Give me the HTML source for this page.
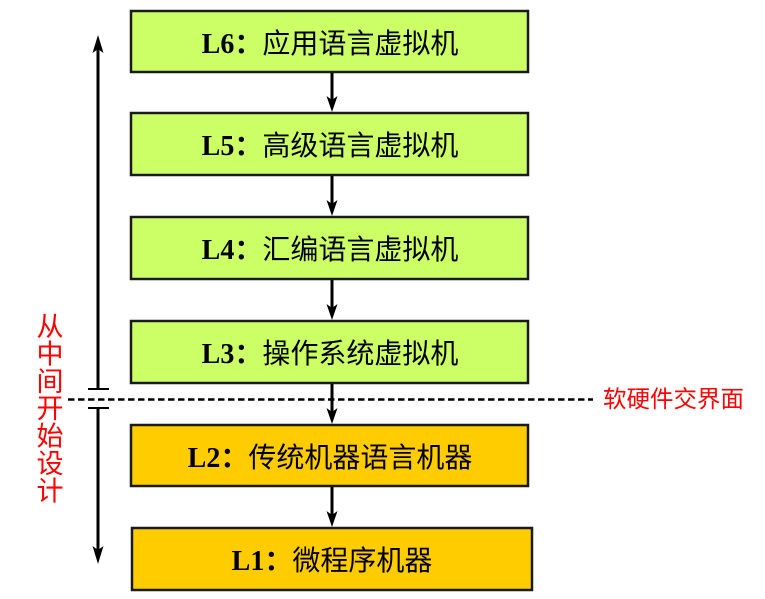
<!DOCTYPE html>
<html><head><meta charset="utf-8"><style>
html,body{margin:0;padding:0;background:#fff;}
svg{display:block;}
.t{font-family:"Liberation Sans","Noto Sans CJK SC",sans-serif;font-size:28px;fill:#000;}
.l{font-family:"Liberation Serif",serif;font-weight:bold;}
.c{font-family:"Noto Sans CJK SC",sans-serif;font-weight:bold;}
.r{font-family:"Liberation Sans","Noto Sans CJK SC",sans-serif;fill:#ff0000;}
</style></head><body>
<svg width="765" height="599" viewBox="0 0 765 599" xmlns="http://www.w3.org/2000/svg">
<!-- boxes -->
<g stroke="#1a1a1a" stroke-width="2.5">
<rect x="131" y="11" width="397" height="61" fill="#ccff66"/>
<rect x="131" y="113" width="397" height="62" fill="#ccff66"/>
<rect x="131" y="217" width="397" height="62" fill="#ccff66"/>
<rect x="131" y="321" width="397" height="62" fill="#ccff66"/>
<rect x="131" y="425" width="397" height="61" fill="#ffcc00"/>
<rect x="132" y="528" width="400" height="62" fill="#ffcc00"/>
</g>
<!-- connectors -->
<g stroke="#000" stroke-width="3">
<line x1="332" y1="73" x2="332" y2="102"/>
<line x1="332" y1="176" x2="332" y2="206"/>
<line x1="332" y1="280" x2="332" y2="310"/>
<line x1="332" y1="384" x2="332" y2="414"/>
<line x1="332" y1="487" x2="332" y2="517"/>
</g>
<g fill="#000">
<polygon points="332,112 326.5,96 332,100 337.5,96"/>
<polygon points="332,216 326.5,200 332,204 337.5,200"/>
<polygon points="332,320 326.5,304 332,308 337.5,304"/>
<polygon points="332,424 326.5,408 332,412 337.5,408"/>
<polygon points="332,527 326.5,511 332,515 337.5,511"/>
</g>
<!-- left arrow -->
<g stroke="#000" stroke-width="3">
<line x1="98" y1="45" x2="98" y2="389"/>
<line x1="88" y1="389" x2="109" y2="389" stroke-width="2"/>
<line x1="98" y1="408" x2="98" y2="555"/>
<line x1="88" y1="408" x2="109" y2="408" stroke-width="2"/>
</g>
<g fill="#000">
<polygon points="98,35 92.5,53 98,49 103.5,53"/>
<polygon points="98,564 92.5,546 98,550 103.5,546"/>
</g>
<!-- dashed line -->
<line x1="68" y1="399.5" x2="593" y2="399.5" stroke="#000" stroke-width="2.5" stroke-dasharray="6.5,3.5"/>
<!-- box labels -->
<text class="t" x="330" y="53" text-anchor="middle"><tspan class="l">L6</tspan><tspan class="c">：</tspan>应用语言虚拟机</text>
<text class="t" x="330" y="155" text-anchor="middle"><tspan class="l">L5</tspan><tspan class="c">：</tspan>高级语言虚拟机</text>
<text class="t" x="330" y="259" text-anchor="middle"><tspan class="l">L4</tspan><tspan class="c">：</tspan>汇编语言虚拟机</text>
<text class="t" x="330" y="363" text-anchor="middle"><tspan class="l">L3</tspan><tspan class="c">：</tspan>操作系统虚拟机</text>
<text class="t" x="330" y="467" text-anchor="middle"><tspan class="l">L2</tspan><tspan class="c">：</tspan>传统机器语言机器</text>
<text class="t" x="332" y="570" text-anchor="middle"><tspan class="l">L1</tspan><tspan class="c">：</tspan>微程序机器</text>
<!-- red labels -->
<text class="r" x="603" y="407" font-size="23.5">软硬件交界面</text>
<g class="r" font-size="27" text-anchor="middle">
<text x="50" y="336">从</text>
<text x="50" y="363.4">中</text>
<text x="50" y="390.8">间</text>
<text x="50" y="418.2">开</text>
<text x="50" y="445.6">始</text>
<text x="50" y="473">设</text>
<text x="50" y="500.4">计</text>
</g>
</svg>
</body></html>
